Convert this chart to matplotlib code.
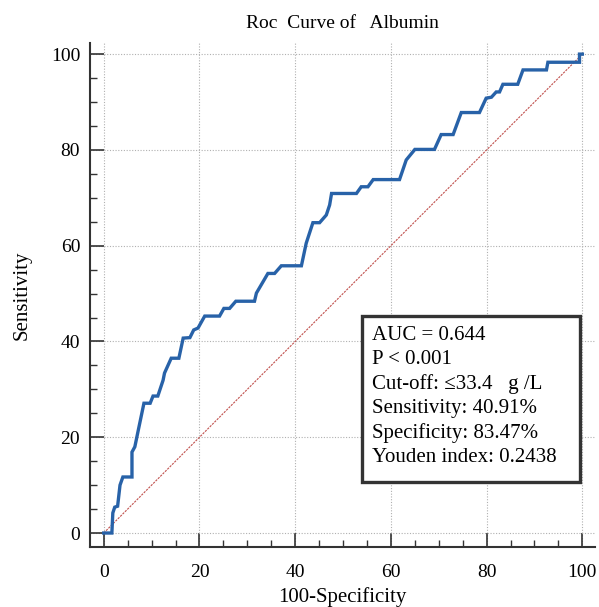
import matplotlib
matplotlib.use("Agg")
import matplotlib.pyplot as plt
from matplotlib.patches import Rectangle
from matplotlib.ticker import MultipleLocator

plt.rcParams["font.family"] = ["Liberation Serif", "DejaVu Serif"]

# ROC curve vertices (100-Specificity, Sensitivity)
fpr = [0, 1.7, 1.9, 2.3, 2.9, 3.4, 4.0, 5.9, 5.9, 6.5, 7.1, 8.4, 9.7, 10.3,
       11.3, 12.4, 12.7, 14.1, 15.7, 16.6, 18.0, 18.8, 19.7, 21.1, 24.2, 25.1,
       26.3, 27.6, 31.5, 31.9, 34.3, 35.7, 37.1, 41.3, 42.3, 43.7, 45.1, 46.5,
       47.2, 47.6, 52.8, 53.8, 55.2, 56.3, 61.8, 63.2, 64.6, 65.0, 69.1, 70.5,
       73.0, 74.7, 78.5, 79.9, 81.0, 82.0, 82.7, 83.4, 86.5, 87.6, 92.5, 92.8,
       99.4, 99.4, 100]
tpr = [0, 0, 4.2, 5.4, 5.6, 10.0, 11.7, 11.7, 16.9, 18.0, 20.9, 27.1, 27.1, 28.6,
       28.6, 31.9, 33.4, 36.5, 36.5, 40.7, 40.8, 42.4, 42.8, 45.3, 45.3, 46.9,
       46.9, 48.4, 48.4, 50.1, 54.2, 54.2, 55.8, 55.8, 60.5, 64.8, 64.8, 66.4,
       68.5, 70.9, 70.9, 72.3, 72.3, 73.8, 73.8, 77.9, 79.6, 80.1, 80.1, 83.2,
       83.2, 87.8, 87.8, 90.8, 91.0, 92.1, 92.1, 93.7, 93.7, 96.7, 96.7, 98.3,
       98.3, 100, 100]

stats_lines = [
    "AUC = 0.644",
    "P < 0.001",
    "Cut-off: \u226433.4   g /L",
    "Sensitivity: 40.91%",
    "Specificity: 83.47%",
    "Youden index: 0.2438",
]

fig = plt.figure(figsize=(5.99, 6.07), dpi=100)
ax = fig.add_axes([0.150, 0.099, 0.843, 0.830])

ax.plot([0, 100], [0, 100], color="#c0504d", lw=0.8, ls=(0, (2, 1)), zorder=2)
ax.plot(fpr, tpr, color="#2862a8", lw=2.4, solid_joinstyle="miter", zorder=3)

ax.set_xlim(-2.9, 102.6)
ax.set_ylim(-2.9, 102.3)
ax.xaxis.set_major_locator(MultipleLocator(20))
ax.yaxis.set_major_locator(MultipleLocator(20))
ax.xaxis.set_minor_locator(MultipleLocator(5))
ax.yaxis.set_minor_locator(MultipleLocator(5))
ax.tick_params(which="major", direction="in", length=10, width=1.2,
               color="#333333", labelsize=14, pad=7)
ax.tick_params(axis="x", which="major", pad=12)
ax.tick_params(which="minor", direction="in", length=5, width=1.0,
               color="#333333")
ax.grid(True, which="major", color="#b0b0b0", ls=(0, (1, 1.5)), lw=0.8)

for side in ("top", "right"):
    ax.spines[side].set_visible(False)
for side in ("left", "bottom"):
    ax.spines[side].set_linewidth(1.5)
    ax.spines[side].set_color("#333333")

ax.set_xlabel("100-Specificity", fontsize=15, labelpad=5)
ax.set_ylabel("Sensitivity", fontsize=15, labelpad=14)
ax.set_title("Roc  Curve of   Albumin", fontsize=14, pad=11)

# stats box
ax.add_patch(Rectangle((53.9, 10.7), 45.7, 34.6, facecolor="white",
                       edgecolor="#333333", linewidth=2.4, zorder=4))
ax.text(56.0, 43.3, "\n".join(stats_lines), fontsize=15, linespacing=1.36,
        ha="left", va="top", zorder=5)

fig.savefig("out.png", dpi=100)
